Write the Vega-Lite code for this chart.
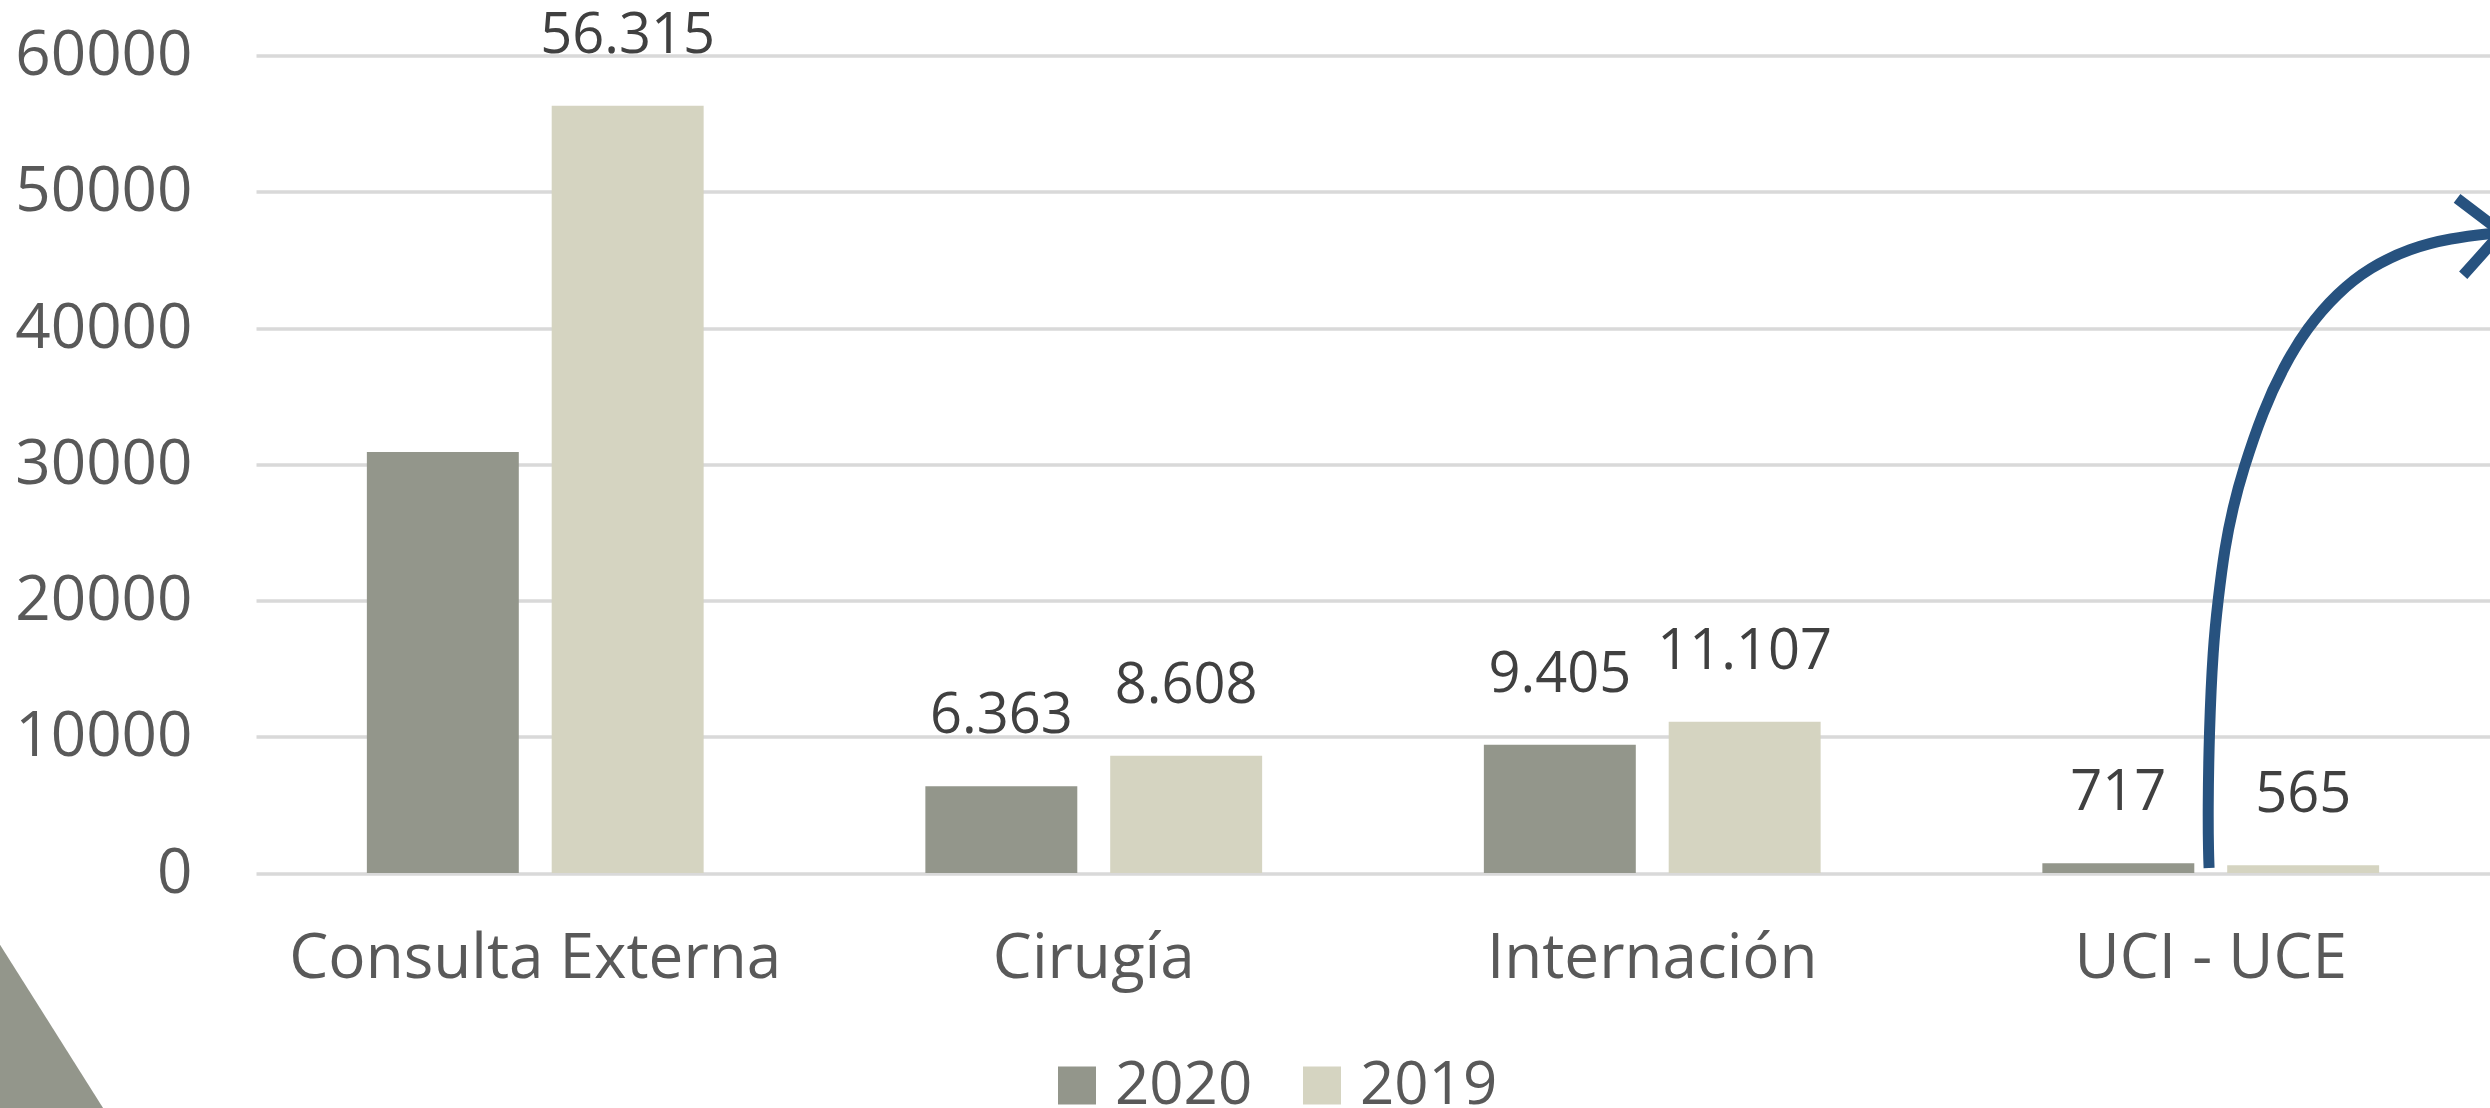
{
  "$schema": "https://vega.github.io/schema/vega-lite/v6.json",
  "autosize": {"type": "none"},
  "width": 2234,
  "height": 817.5,
  "padding": {"left": 256, "top": 55.5, "right": 0, "bottom": 235},
  "background": "white",
  "config": {
    "view": {"stroke": null},
    "font": "Open Sans",
    "axisY": {"labelFontSize": 62, "labelColor": "#595959", "labelPadding": 64, "ticks": false, "domain": false, "gridColor": "#D9D9D9", "gridWidth": 3.5, "grid": true},
    "axisX": {"labelAngle": 0, "labelFontSize": 62, "labelColor": "#595959", "labelPadding": 55, "labelLimit": 0, "ticks": false, "domain": false, "grid": false}
  },
  "datasets": {
    "bars": [
      {"category": "Consulta Externa", "year": "2020", "value": 30900, "label": null},
      {"category": "Consulta Externa", "year": "2019", "value": 56315, "label": "56.315"},
      {"category": "Cirugía", "year": "2020", "value": 6363, "label": "6.363"},
      {"category": "Cirugía", "year": "2019", "value": 8608, "label": "8.608"},
      {"category": "Internación", "year": "2020", "value": 9405, "label": "9.405"},
      {"category": "Internación", "year": "2019", "value": 11107, "label": "11.107"},
      {"category": "UCI - UCE", "year": "2020", "value": 717, "label": "717"},
      {"category": "UCI - UCE", "year": "2019", "value": 565, "label": "565"}
    ],
    "tri": [
      {"ty": 10445, "tx": -0.7, "tx2": -0.7},
      {"ty": -20000, "tx": -0.7, "tx2": -0.2315}
    ],
    "arrow": [
      {"i": 0, "ax": 3.497, "ay": 370},
      {"i": 1, "ax": 3.496, "ay": 1500},
      {"i": 2, "ax": 3.495, "ay": 4400},
      {"i": 3, "ax": 3.497, "ay": 10270},
      {"i": 4, "ax": 3.504, "ay": 16580},
      {"i": 5, "ax": 3.513, "ay": 20030},
      {"i": 6, "ax": 3.525, "ay": 23920},
      {"i": 7, "ax": 3.540, "ay": 26850},
      {"i": 8, "ax": 3.557, "ay": 29500},
      {"i": 9, "ax": 3.594, "ay": 33970},
      {"i": 10, "ax": 3.630, "ay": 37120},
      {"i": 11, "ax": 3.672, "ay": 39990},
      {"i": 12, "ax": 3.726, "ay": 42550},
      {"i": 13, "ax": 3.785, "ay": 44460},
      {"i": 14, "ax": 3.857, "ay": 45850},
      {"i": 15, "ax": 3.928, "ay": 46590},
      {"i": 16, "ax": 4.010, "ay": 46980},
      {"i": 17, "ax": 4.020, "ay": 47010}
    ],
    "head": [
      {"i": 0, "hx": 3.941, "hy": 49520},
      {"i": 1, "hx": 4.021, "hy": 47030},
      {"i": 2, "hx": 3.952, "hy": 43870}
    ]
  },
  "layer": [
    {
      "data": {"name": "bars"},
      "layer": [
        {
          "mark": {"type": "bar"},
          "encoding": {
            "x": {
              "field": "category", "type": "nominal", "title": null,
              "sort": ["Consulta Externa", "Cirugía", "Internación", "UCI - UCE"],
              "scale": {"paddingInner": 0.397, "paddingOuter": 0.1985}
            },
            "xOffset": {
              "field": "year", "type": "nominal", "sort": ["2020", "2019"],
              "scale": {"paddingInner": 0.178, "paddingOuter": 0}
            },
            "y": {
              "field": "value", "type": "quantitative", "title": null,
              "scale": {"domain": [0, 60000], "nice": false},
              "axis": {"title": null, "values": [0, 10000, 20000, 30000, 40000, 50000, 60000], "format": "d"}
            },
            "color": {
              "field": "year", "type": "nominal", "sort": ["2020", "2019"],
              "scale": {"domain": ["2020", "2019"], "range": ["#93968B", "#D5D4C1"]},
              "legend": {"title": null, "orient": "none", "legendX": 791, "legendY": 1000, "direction": "horizontal", "columns": 2, "symbolType": "square", "symbolSize": 1444, "symbolStrokeWidth": 0, "labelFontSize": 60, "labelColor": "#595959", "labelOffset": 8, "columnPadding": 39, "padding": 0}
            }
          }
        },
        {
          "transform": [{"filter": "datum.label != null"}],
          "mark": {"type": "text", "baseline": "middle", "align": "center", "dy": -70, "fontSize": 56, "color": "#404040"},
          "encoding": {
            "x": {"field": "category", "type": "nominal", "title": null, "sort": ["Consulta Externa", "Cirugía", "Internación", "UCI - UCE"]},
            "xOffset": {"field": "year", "type": "nominal", "sort": ["2020", "2019"]},
            "y": {"field": "value", "type": "quantitative", "title": null, "scale": {"domain": [0, 60000], "nice": false}},
            "text": {"field": "label"}
          }
        }
      ]
    },
    {
      "data": {"name": "tri"},
      "mark": {"type": "area", "orient": "horizontal", "color": "#93968B", "opacity": 1},
      "encoding": {
        "x": {"field": "tx", "type": "quantitative", "scale": {"domain": [0, 4], "nice": false, "zero": false}, "axis": null},
        "x2": {"field": "tx2"},
        "y": {"field": "ty", "type": "quantitative", "title": null, "scale": {"domain": [0, 60000], "nice": false}}
      }
    },
    {
      "data": {"name": "arrow"},
      "mark": {"type": "line", "color": "#27527F", "strokeWidth": 11, "interpolate": "basis", "strokeCap": "butt"},
      "encoding": {
        "x": {"field": "ax", "type": "quantitative", "scale": {"domain": [0, 4], "nice": false, "zero": false}, "axis": null},
        "y": {"field": "ay", "type": "quantitative", "title": null, "scale": {"domain": [0, 60000], "nice": false}},
        "order": {"field": "i"}
      }
    },
    {
      "data": {"name": "head"},
      "mark": {"type": "line", "color": "#27527F", "strokeWidth": 11, "strokeCap": "butt", "strokeJoin": "miter"},
      "encoding": {
        "x": {"field": "hx", "type": "quantitative", "scale": {"domain": [0, 4], "nice": false, "zero": false}, "axis": null},
        "y": {"field": "hy", "type": "quantitative", "title": null, "scale": {"domain": [0, 60000], "nice": false}},
        "order": {"field": "i"}
      }
    }
  ],
  "resolve": {"scale": {"x": "independent"}}
}
